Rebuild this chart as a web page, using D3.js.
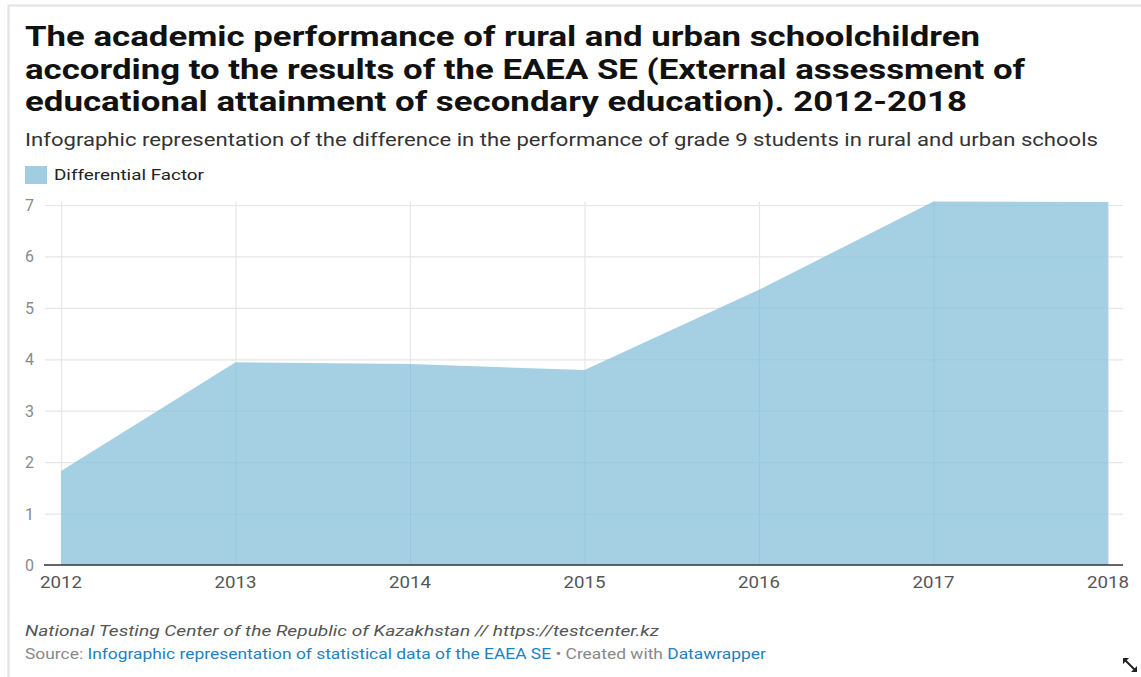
<!DOCTYPE html>
<html><head><meta charset="utf-8">
<script src="https://cdn.jsdelivr.net/npm/d3@7"></script>
<style>body{margin:0;background:#fff}svg{display:block;font-family:Roboto,"Noto Sans",sans-serif}</style>
</head><body><svg id="c" width="1141" height="677"></svg>
<script>
const years = [2012, 2013, 2014, 2015, 2016, 2017, 2018];
const differentialFactor = [1.83, 3.94, 3.91, 3.79, 5.35, 7.07, 7.06];
const yTicks = [0, 1, 2, 3, 4, 5, 6, 7];
const titleLines = [
  "The academic performance of rural and urban schoolchildren",
  "according to the results of the EAEA SE (External assessment of",
  "educational attainment of secondary education). 2012-2018"
];
const subtitle = "Infographic representation of the difference in the performance of grade 9 students in rural and urban schools";
const seriesName = "Differential Factor";
const notes = "National Testing Center of the Republic of Kazakhstan // https://testcenter.kz";

const svg = d3.select("#c");
// frame
svg.append("path").attr("d","M8.5,677V5.5H1141").attr("fill","none").attr("stroke","#e2e2e2").attr("stroke-width",2);

const titleW = [955, 1000, 942];
const titleY = [46, 79, 111];
titleLines.forEach((t,i)=>{
  svg.append("text").attr("x",25).attr("y",titleY[i]).attr("font-size",27).attr("font-weight",700)
    .attr("fill","#111").attr("textLength",titleW[i]).attr("lengthAdjust","spacingAndGlyphs").text(t);
});
svg.append("text").attr("x",25).attr("y",146).attr("font-size",17.5).attr("fill","#333")
  .attr("textLength",1073).attr("lengthAdjust","spacingAndGlyphs").text(subtitle);

const color = "#a0cde2";
svg.append("rect").attr("x",25).attr("y",166).attr("width",22).attr("height",18).attr("fill",color);
svg.append("text").attr("x",54).attr("y",180).attr("font-size",15).attr("fill","#222")
  .attr("textLength",150).attr("lengthAdjust","spacingAndGlyphs").text(seriesName);

const x = d3.scalePoint().domain(years).range([61, 1108]);
const y = d3.scaleLinear().domain([0, 7]).range([565, 205]);

// horizontal grid
const g = svg.append("g");
g.selectAll("line.h").data(yTicks.filter(d=>d>0)).join("line")
  .attr("x1",45).attr("x2",1123).attr("y1",d=>y(d)+0.5).attr("y2",d=>y(d)+0.5)
  .attr("stroke","#e6e6e6").attr("stroke-width",1.2);
// vertical grid
g.selectAll("line.v").data(years).join("line")
  .attr("x1",d=>x(d)+0.5).attr("x2",d=>x(d)+0.5).attr("y1",202).attr("y2",565)
  .attr("stroke","#e6e6e6").attr("stroke-width",1.2);

const data = years.map((yr,i)=>({yr, v: differentialFactor[i]}));
const areaGen = d3.area().x(d=>x(d.yr)).y0(y(0)).y1(d=>y(d.v));
svg.append("path").datum(data).attr("d", areaGen).attr("fill", color).attr("fill-opacity",0.95);
svg.append("clipPath").attr("id","areaClip").append("path").datum(data).attr("d", areaGen);
// gridlines faintly through area
svg.append("g").selectAll("line").data(years.slice(1,-1)).join("line")
  .attr("x1",d=>x(d)+0.5).attr("x2",d=>x(d)+0.5).attr("y1",d=>y(differentialFactor[years.indexOf(d)])).attr("y2",565)
  .attr("stroke","#8fbfd4").attr("stroke-opacity",0.5).attr("stroke-width",1);
svg.append("g").selectAll("line").data(yTicks.filter(d=>d>0)).join("line")
  .attr("x1",61).attr("x2",1108).attr("y1",d=>y(d)+0.5).attr("y2",d=>y(d)+0.5)
  .attr("stroke","#8fbfd4").attr("stroke-opacity",0.25).attr("stroke-width",1)
  .attr("clip-path","url(#areaClip)");

// baseline
svg.append("line").attr("x1",44).attr("x2",1123).attr("y1",565).attr("y2",565).attr("stroke","#333").attr("stroke-width",1.5);

// y labels
svg.append("g").selectAll("text").data(yTicks).join("text")
  .attr("x",25).attr("y",d=>y(d)+6).attr("font-size",16).attr("fill","#8a8a8a").text(d=>d);
// x labels
svg.append("g").selectAll("text").data(years).join("text")
  .attr("x",d=>x(d)).attr("y",588).attr("text-anchor","middle").attr("font-size",16.5).attr("fill","#555")
  .attr("textLength",42).attr("lengthAdjust","spacingAndGlyphs").text(d=>d);

// footer
svg.append("text").attr("x",25).attr("y",636).attr("font-size",15).attr("font-style","italic").attr("fill","#555")
  .attr("textLength",634).attr("lengthAdjust","spacingAndGlyphs").text(notes);
const src = svg.append("text").attr("x",25).attr("y",659).attr("font-size",14).attr("fill","#888")
  .attr("textLength",741).attr("lengthAdjust","spacingAndGlyphs");
src.append("tspan").text("Source: ");
src.append("tspan").attr("fill","#1d81c2").text("Infographic representation of statistical data of the EAEA SE");
src.append("tspan").text(" • Created with ");
src.append("tspan").attr("fill","#1d81c2").text("Datawrapper");

// resize icon
const ic = svg.append("g").attr("transform","translate(1130,665)");
ic.append("line").attr("x1",-5).attr("y1",-5).attr("x2",5).attr("y2",5).attr("stroke","#222").attr("stroke-width",2);
ic.append("path").attr("d","M-7,-7L-1,-7L-7,-1Z M7,7L1,7L7,1Z").attr("fill","#222");
</script></body></html>
